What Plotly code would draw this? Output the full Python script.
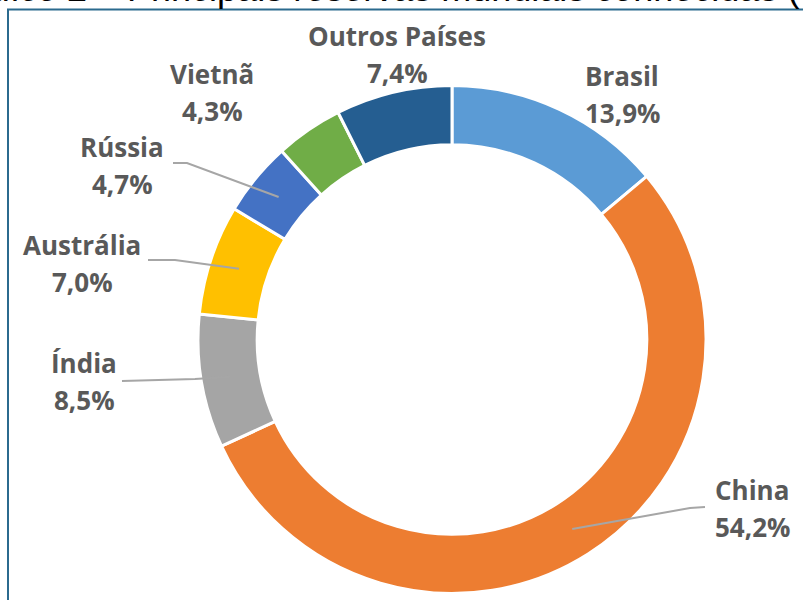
import math
import plotly.graph_objects as go

# ---- data ----
countries = ["Brasil", "China", "Índia", "Austrália", "Rússia", "Vietnã", "Outros Países"]
shares = [13.9, 54.2, 8.5, 7.0, 4.7, 4.3, 7.4]
share_labels = ["13,9%", "54,2%", "8,5%", "7,0%", "4,7%", "4,3%", "7,4%"]
colors = ["#5B9BD5", "#ED7D31", "#A5A5A5", "#FFC000", "#4472C4", "#70AD47", "#255E91"]
title_text = "Gráfico 2 – Principais reservas mundiais conhecidas (%)"

W, H = 803, 600
CX, CY, R = 452.0, 339.5, 254.0
HOLE = 0.767

def px(x):
    return x / W

def py(y):
    return 1 - y / H

# label layout (pixel centres of the name line; value line sits LINE_GAP below)
label_pos = {
    "Brasil": (622, 76),
    "China": (752, 490),
    "Índia": (84, 363),
    "Austrália": (82, 245),
    "Rússia": (122, 147),
    "Vietnã": (212, 74),
    "Outros Países": (397, 36),
}
LINE_GAP = 37
# leader line starts (pixel) and the horizontal stub end
leader_start = {
    "China": ((705, 507), (690, 508)),
    "Índia": ((122, 381), (195, 379)),
    "Austrália": ((148, 260), (175, 260)),
    "Rússia": ((173, 163), (187, 163)),
}

fig = go.Figure(go.Pie(
    labels=countries,
    values=shares,
    sort=False,
    direction="clockwise",
    rotation=0,
    hole=HOLE,
    textinfo="none",
    marker=dict(colors=colors, line=dict(color="white", width=3)),
    domain=dict(x=[px(CX - R), px(CX + R)], y=[py(CY + R), py(CY - R)]),
    showlegend=False,
))

annotations = []
font_lbl = dict(family="Open Sans", size=26, color="#595959")
for name, lab in zip(countries, share_labels):
    x, y = label_pos[name]
    annotations.append(dict(x=px(x), y=py(y), xref="paper", yref="paper", text="<b>%s</b>" % name,
                            showarrow=False, xanchor="center", yanchor="middle", font=font_lbl))
    annotations.append(dict(x=px(x), y=py(y + LINE_GAP), xref="paper", yref="paper", text="<b>%s</b>" % lab,
                            showarrow=False, xanchor="center", yanchor="middle", font=font_lbl))

annotations.append(dict(x=px(-61), y=py(11), xref="paper", yref="paper", text=title_text,
                        showarrow=False, xanchor="left", yanchor="bottom",
                        font=dict(family="Liberation Sans", size=36, color="black")))

# leader lines end at the mid-angle of their slice, mid-ring
shapes = []
total = sum(shares)
cum = 0.0
r_mid = R * (1 + HOLE) / 2
for name, v in zip(countries, shares):
    mid = cum + v / 2
    cum += v
    if name not in leader_start:
        continue
    ang = math.radians(90 - mid / total * 360)
    ex, ey = CX + r_mid * math.cos(ang), CY - r_mid * math.sin(ang)
    (sx, sy), (bx, by) = leader_start[name]
    path = "M %f %f L %f %f L %f %f" % (px(sx), py(sy), px(bx), py(by), px(ex), py(ey))
    shapes.append(dict(type="path", xref="paper", yref="paper", path=path,
                       line=dict(color="#A6A6A6", width=2)))

shapes.append(dict(type="rect", xref="paper", yref="paper", x0=px(8), x1=1.05, y0=-0.05, y1=py(9.5),
                   line=dict(color="#2B6A8E", width=2), fillcolor="rgba(0,0,0,0)"))

fig.update_layout(
    width=W, height=H,
    margin=dict(l=0, r=0, t=0, b=0),
    paper_bgcolor="white", plot_bgcolor="white",
    annotations=annotations, shapes=shapes,
)
fig.write_html("out.html", config={"displayModeBar": False},
               post_script="document.body.style.margin='0';")
